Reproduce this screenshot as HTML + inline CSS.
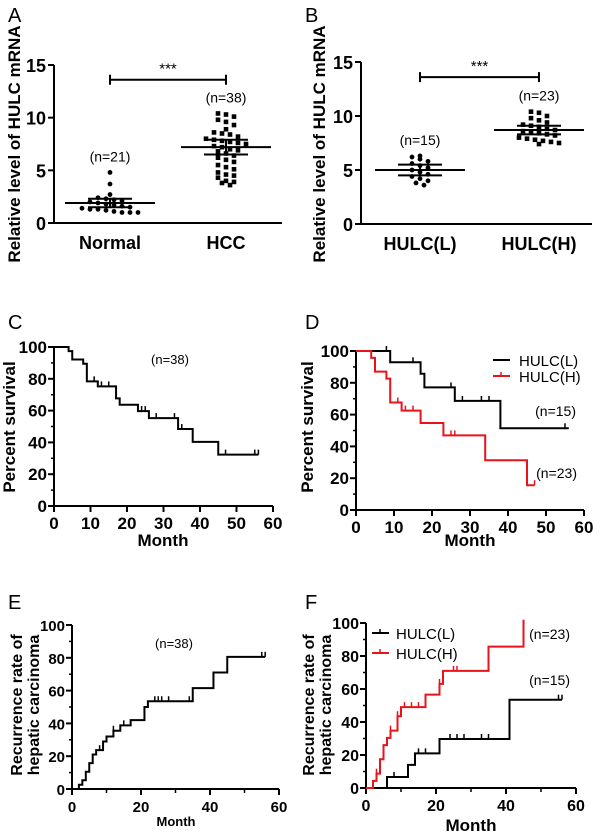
<!DOCTYPE html>
<html><head><meta charset="utf-8">
<style>
body{margin:0;background:#fff;}
svg{display:block;font-family:"Liberation Sans",Arial,sans-serif;}
</style></head>
<body>
<svg id="fig" width="600" height="840" viewBox="0 0 600 840"></svg>
<script>
// ---- Panel A data ----
const aCategories = ["Normal","HCC"];
const aNormal = [4.8,3.7,2.7,2.4,2.3,2.2,2.1,2.0,1.9,1.8,1.7,1.6,1.5,1.4,1.3,1.3,1.2,1.1,1.0,1.0,1.0];
const aHCC = [10.4,10.3,10.1,9.8,9.6,9.3,8.9,8.6,8.5,8.4,8.2,8.0,7.9,7.8,7.7,7.6,7.5,7.3,7.2,7.0,6.9,6.8,6.6,6.4,6.2,6.0,5.8,5.5,5.3,5.1,4.8,4.6,4.5,4.3,4.0,3.9,3.8,3.6];
const aStats = [[1.9,1.5,2.3],[7.2,6.5,7.9]];
const aN = ["(n=21)","(n=38)"];
// ---- Panel B data ----
const bCategories = ["HULC(L)","HULC(H)"];
const bLow = [6.3,6.2,6.0,5.8,5.6,5.4,5.2,5.0,4.8,4.6,4.4,4.2,4.0,3.8,3.6];
const bHigh = [10.4,10.3,10.0,9.8,9.6,9.4,9.2,9.1,9.0,8.8,8.7,8.6,8.5,8.4,8.3,8.2,8.0,7.9,7.8,7.7,7.6,7.5,7.4];
const bStats = [[5.0,4.5,5.5],[8.7,8.3,9.1]];
const bN = ["(n=15)","(n=23)"];
const yTicksScatter = [0,5,10,15];
// ---- Panel C ----
const cTimes = [0,4,5,8,9,12,17,18,23,26,34,38,45,56];
const cVals = [100,97.4,92.1,89.5,78.4,75.2,67.7,63.7,59.7,55.3,48.4,40.3,32.3,32.3];
const cCensor = [11,13,15,24,25,28,33,35,47,55,56];
// ---- Panel D ----
const dLTimes = [0,9,17,18,26,38,56];
const dLVals = [100,92.9,85.7,77.1,68.6,51.4,51.4];
const dLCensor = [8,15,25,28,33,35,55];
const dHTimes = [0,4,5,8,9,12,17,23,34,45,47];
const dHVals = [100,95.7,87,82.6,67.6,62.5,54.7,46.9,31.3,15.6,15.6];
const dHCensor = [11,13,15,25,26,47];
// ---- Panel E ----
const eTimes = [0,2,3,4,5,6,7,9,10,12,14,17,21,22,35,41,45,56];
const eVals = [0,2.6,5.3,10.5,15.8,21,23.7,29,32,35.5,38.8,42,50,53.5,61.5,71,80.6,80.6];
const eCensor = [8,12,15,24,25,26,28,34,55,56];
// ---- Panel F ----
const fLTimes = [0,6,12,14,21,41,56];
const fLVals = [0,6.7,14,21,29.7,53.5,53.5];
const fLCensor = [8,15,17,24,26,28,33,35,55,56];
const fHTimes = [0,2,3,4,5,6,7,9,10,17,21,22,35,45,45];
const fHVals = [0,4.3,8.7,17.4,26,30.4,34.8,43.5,49,56.6,63.1,71,85.7,100,102];
const fHCensor = [3,7,9,11,13,15,21,25,26];
const kmYTicks = [0,20,40,60,80,100];

const svg = document.getElementById('fig');
const NS = 'http://www.w3.org/2000/svg';
function mk(tag, attrs, parent, text){
  const e = document.createElementNS(NS, tag);
  for (const k in attrs) e.setAttribute(k, attrs[k]);
  if (text !== undefined) e.textContent = text;
  (parent||svg).appendChild(e); return e;
}
function txt(x,y,s,size,bold,anchor,name,rot){
  const t = mk('text',{x:x,y:y,'font-size':size,'font-weight':bold?'bold':'normal','text-anchor':anchor||'middle'},svg,s);
  if (rot) t.setAttribute('transform','rotate(-90 '+x+' '+y+')');
  
  
  return t;
}
function line(x1,y1,x2,y2,w,c,name){
  const l = mk('line',{x1:x1,y1:y1,x2:x2,y2:y2,stroke:c||'#000','stroke-width':w||2});
  
  
  return l;
}

[['A',8,22],['B',305,22],['C',8,329],['D',305,329],['E',8,609],['F',305,609]].forEach(p=>{
  txt(p[1],p[2],p[0],20,false,'start','panel-label-'+p[0].toLowerCase());
});

function scatterPanel(id, ax, y15, y0, cx, cats, groups, stats, ns, axEnd, square){
  const ys = v => y0 - (v/15)*(y0-y15);
  line(ax,y15,ax,y0+1,2,'#000',id+'-y-axis');
  line(ax-1,y0,axEnd,y0,2,'#000',id+'-x-axis');
  yTicksScatter.forEach(t=>{
    line(ax-6,ys(t),ax,ys(t),2,'#000',id+'-y-tick');
    txt(ax-8,ys(t)+7,String(t),18,true,'end',id+'-y-tick-label');
  });
  groups.forEach((vals,gi)=>{
    const x = cx[gi];
    const rows = {};
    vals.forEach(v=>{ const k=Math.round(v/0.6); (rows[k]=rows[k]||[]).push(v); });
    Object.keys(rows).forEach(k=>{
      const r = rows[k]; const n=r.length;
      r.forEach((v,i)=>{
        const px = x + (i-(n-1)/2)*8;
        let c;
        if (square[gi]) c = mk('rect',{x:px-2.3,y:ys(v)-2.3,width:4.6,height:4.6,fill:'#000'});
        else c = mk('circle',{cx:px,cy:ys(v),r:2.4,fill:'#000'});
        
        
      });
    });
    const s = stats[gi];
    line(x-45,ys(s[0]),x+45,ys(s[0]),2,'#000',id+'-mean-line');
    line(x-22,ys(s[1]),x+22,ys(s[1]),2,'#000',id+'-sem-low');
    line(x-22,ys(s[2]),x+22,ys(s[2]),2,'#000',id+'-sem-high');
    line(x,ys(s[1]),x,ys(s[2]),2,'#000',id+'-sem-bar');
    txt(x,y0+26,cats[gi],18,true,'middle',id+'-x-label');
    const top = Math.max(...vals);
    txt(x,ys(top)-11,ns[gi],14,false,'middle',id+'-n-label');
  });
  const yb = ys(13.6);
  line(cx[0],yb,cx[1],yb,2,'#000',id+'-sig-bracket');
  line(cx[0],yb-5,cx[0],yb+5,2,'#000',id+'-sig-end');
  line(cx[1],yb-5,cx[1],yb+5,2,'#000',id+'-sig-end');
  txt((cx[0]+cx[1])/2,yb-6,'***',15,false,'middle',id+'-sig-stars');
}
scatterPanel('a',54,65,223,[110,226],aCategories,[aNormal,aHCC],aStats,aN,282,[false,true]);
scatterPanel('b',361,62,224,[420,539],bCategories,[bLow,bHigh],bStats,bN,592,[false,true]);
txt(20,144,'Relative level of HULC mRNA',17,true,'middle','a-y-axis-title',true);
txt(325,144,'Relative level of HULC mRNA',17,true,'middle','b-y-axis-title',true);

function kmAxes(id,x0,x60,y100,y0,xTicks,minor,font){
  const sx = t => x0 + t/60*(x60-x0);
  const sy = v => y0 - v/100*(y0-y100);
  line(x0,y100,x0,y0+1,2,'#000',id+'-y-axis');
  line(x0-1,y0,x60,y0,2,'#000',id+'-x-axis');
  kmYTicks.forEach(t=>{
    line(x0-6,sy(t),x0,sy(t),2,'#000',id+'-y-tick');
    txt(x0-7,sy(t)+6,String(t),font,true,'end',id+'-y-tick-label');
    if (t<100) line(x0-3,sy(t+10),x0,sy(t+10),1.5,'#000',id+'-minor-tick');
  });
  xTicks.forEach(t=>{
    line(sx(t),y0,sx(t),y0+6,2,'#000',id+'-x-tick');
    txt(sx(t),y0+23,String(t),font,true,'middle',id+'-x-tick-label');
  });
  minor.forEach(t=>line(sx(t),y0,sx(t),y0+4,1.5,'#000',id+'-x-minor-tick'));
  return {sx,sy};
}
function kmCurve(id,sc,times,vals,censor,color){
  let d = 'M'+sc.sx(times[0])+','+sc.sy(vals[0]);
  for (let i=1;i<times.length;i++){
    d += ' L'+sc.sx(times[i])+','+sc.sy(vals[i-1])+' L'+sc.sx(times[i])+','+sc.sy(vals[i]);
  }
  const p = mk('path',{d:d,stroke:color,'stroke-width':2,fill:'none'});
  
  
  censor.forEach(t=>{
    let v = vals[0];
    for (let i=0;i<times.length;i++) if (times[i]<=t) v = vals[i];
    const y = sc.sy(v);
    line(sc.sx(t),y,sc.sx(t),y-5,1.5,color,id+'-censor-mark');
  });
}
const sC = kmAxes('c',54,273,347,506,[0,10,20,30,40,50,60],[],17);
kmCurve('c',sC,cTimes,cVals,cCensor,'#000');
txt(170,364,'(n=38)',13,false,'middle','c-n-label');
txt(15,427,'Percent survival',17,true,'middle','c-y-axis-title',true);
txt(163,546,'Month',17,true,'middle','c-x-axis-title');

const sD = kmAxes('d',356,584,351,510,[0,10,20,30,40,50,60],[],17);
kmCurve('d-low',sD,dLTimes,dLVals,dLCensor,'#000');
kmCurve('d-high',sD,dHTimes,dHVals,dHCensor,'#e8141c');
line(493,360,510,360,2,'#000','d-legend-swatch-low');
line(493,376,510,376,2,'#e8141c','d-legend-swatch-high');
line(501,376,501,372,1.5,'#e8141c','d-legend-censor');
txt(519,366,'HULC(L)',15,false,'start','d-legend-low');
txt(519,382,'HULC(H)',15,false,'start','d-legend-high');
txt(576,416,'(n=15)',14,false,'end','d-n-low');
txt(577,478,'(n=23)',14,false,'end','d-n-high');
txt(313,427,'Percent survival',17,true,'middle','d-y-axis-title',true);
txt(470,546,'Month',17,true,'middle','d-x-axis-title');

const sE = kmAxes('e',72,279,625,789,[0,20,40,60],[10,30,50],15);
kmCurve('e',sE,eTimes,eVals,eCensor,'#000');
txt(174,648,'(n=38)',13,false,'middle','e-n-label');
txt(22,705,'Recurrence rate of',16,true,'middle','e-y-axis-title-1',true);
txt(39,705,'hepatic carcinoma',16,true,'middle','e-y-axis-title-2',true);
txt(176,826,'Month',13,true,'middle','e-x-axis-title');

const sF = kmAxes('f',366,576,623,788,[0,20,40,60],[10,30,50],16);
kmCurve('f-low',sF,fLTimes,fLVals,fLCensor,'#000');
kmCurve('f-high',sF,fHTimes,fHVals,fHCensor,'#e8141c');
line(372,633,389,633,2,'#000','f-legend-swatch-low');
line(380,633,380,629,1.5,'#000','f-legend-censor');
line(372,653,389,653,2,'#e8141c','f-legend-swatch-high');
line(380,653,380,649,1.5,'#e8141c','f-legend-censor');
txt(396,639,'HULC(L)',15,false,'start','f-legend-low');
txt(396,659,'HULC(H)',15,false,'start','f-legend-high');
txt(570,639,'(n=23)',14,false,'end','f-n-high');
txt(570,685,'(n=15)',14,false,'end','f-n-low');
txt(314,705,'Recurrence rate of',16,true,'middle','f-y-axis-title-1',true);
txt(331,705,'hepatic carcinoma',16,true,'middle','f-y-axis-title-2',true);
txt(471,831,'Month',17,true,'middle','f-x-axis-title');
</script>
</body></html>
